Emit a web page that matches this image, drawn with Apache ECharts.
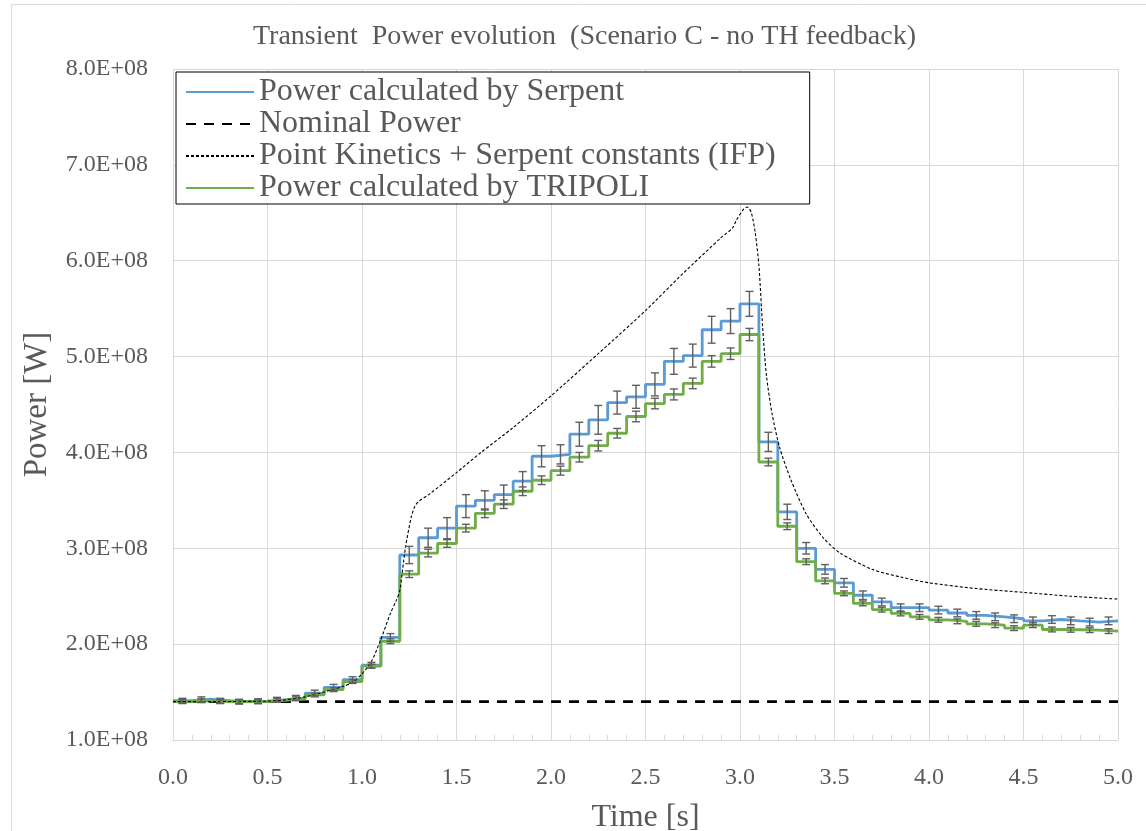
<!DOCTYPE html>
<html>
<head>
<meta charset="utf-8">
<title>Transient Power evolution</title>
<script src="https://cdn.jsdelivr.net/npm/echarts@6/dist/echarts.min.js"></script>
<style>
  html, body { margin: 0; padding: 0; background: #ffffff; }
  #chart { width: 1146px; height: 831px; }
</style>
</head>
<body>
<div id="chart"></div>
<script>
// Power values are given in units of 1e8 W
const UNIT = 1e8;

// Start time of each 0.1 s tally bin [s]
const binStart = [
  0.0, 0.1, 0.2, 0.3, 0.4, 0.5, 0.6, 0.7, 0.8, 0.9,
  1.0, 1.1, 1.2, 1.3, 1.4, 1.5, 1.6, 1.7, 1.8, 1.9,
  2.0, 2.1, 2.2, 2.3, 2.4, 2.5, 2.6, 2.7, 2.8, 2.9,
  3.0, 3.1, 3.2, 3.3, 3.4, 3.5, 3.6, 3.7, 3.8, 3.9,
  4.0, 4.1, 4.2, 4.3, 4.4, 4.5, 4.6, 4.7, 4.8, 4.9
];
const endTime = 5.0;
const binWidth = 0.1;

// Serpent: bin power and 1-sigma uncertainty
const serpentPower = [
  1.41, 1.425, 1.41, 1.40, 1.405, 1.42, 1.44, 1.49, 1.55, 1.63,
  1.78, 2.07, 2.93, 3.11, 3.21, 3.44, 3.50, 3.56, 3.70, 3.96,
  3.98, 4.19, 4.34, 4.52, 4.58, 4.71, 4.95, 5.01, 5.28, 5.37,
  5.55, 4.11, 3.38, 3.00, 2.78, 2.64, 2.51, 2.44, 2.38, 2.38,
  2.355, 2.325, 2.30, 2.285, 2.265, 2.243, 2.257, 2.243, 2.23, 2.243
];
const serpentError = [
  0.025, 0.025, 0.025, 0.025, 0.025, 0.025, 0.025, 0.03, 0.03, 0.03,
  0.03, 0.04, 0.09, 0.10, 0.11, 0.12, 0.10, 0.10, 0.10, 0.11,
  0.10, 0.125, 0.15, 0.12, 0.12, 0.12, 0.135, 0.12, 0.14, 0.13,
  0.13, 0.10, 0.08, 0.06, 0.05, 0.045, 0.045, 0.04, 0.04, 0.04,
  0.04, 0.04, 0.04, 0.04, 0.04, 0.04, 0.04, 0.04, 0.04, 0.04
];

// TRIPOLI: bin power and 1-sigma uncertainty
const tripoliPower = [
  1.40, 1.41, 1.40, 1.40, 1.40, 1.415, 1.43, 1.47, 1.525, 1.61,
  1.77, 2.03, 2.73, 2.95, 3.05, 3.21, 3.365, 3.46, 3.595, 3.71,
  3.81, 3.95, 4.07, 4.20, 4.375, 4.51, 4.605, 4.72, 4.95, 5.03,
  5.23, 3.90, 3.23, 2.86, 2.66, 2.53, 2.425, 2.36, 2.32, 2.285,
  2.254, 2.238, 2.212, 2.198, 2.167, 2.198, 2.153, 2.15, 2.146, 2.136
];
const tripoliError = [
  0.02, 0.02, 0.02, 0.02, 0.02, 0.02, 0.02, 0.02, 0.02, 0.02,
  0.02, 0.025, 0.035, 0.04, 0.04, 0.04, 0.045, 0.045, 0.045, 0.045,
  0.047, 0.05, 0.055, 0.05, 0.055, 0.055, 0.057, 0.055, 0.06, 0.06,
  0.064, 0.04, 0.035, 0.03, 0.03, 0.025, 0.025, 0.025, 0.025, 0.025,
  0.025, 0.025, 0.025, 0.025, 0.025, 0.025, 0.025, 0.025, 0.025, 0.025
];

// Point kinetics solution with Serpent kinetic constants (IFP)
const pkTime = [
  0.0, 0.5, 0.6, 0.7, 0.8, 0.9, 0.95, 1.0, 1.05, 1.1,
  1.15, 1.18, 1.2, 1.23, 1.26, 1.28, 1.3, 1.36, 1.5, 1.63,
  1.8, 2.0, 2.25, 2.5, 2.7, 2.9, 2.96, 2.98, 3.02, 3.04,
  3.06, 3.08, 3.1, 3.12, 3.14, 3.17, 3.21, 3.27, 3.35, 3.44,
  3.53, 3.7, 3.85, 4.0, 4.25, 4.5, 4.75, 5.0
];
const pkPower = [
  1.40, 1.405, 1.42, 1.45, 1.50, 1.56, 1.60, 1.69, 1.82, 2.05,
  2.32, 2.45, 2.56, 3.01, 3.32, 3.44, 3.49, 3.57, 3.79, 4.00,
  4.26, 4.59, 5.03, 5.48, 5.87, 6.24, 6.34, 6.42, 6.54, 6.56,
  6.50, 6.30, 5.95, 5.30, 4.80, 4.40, 4.05, 3.71, 3.36, 3.11,
  2.95, 2.78, 2.70, 2.64, 2.58, 2.54, 2.50, 2.47
];

// Nominal reactor power
const nominalPower = 1.40;

// Axis ticks
const yTicks = [1, 2, 3, 4, 5, 6, 7, 8];
const xTicks = [0.0, 0.5, 1.0, 1.5, 2.0, 2.5, 3.0, 3.5, 4.0, 4.5, 5.0];

const seriesNames = [
  'Power calculated by Serpent',
  'Nominal Power',
  'Point Kinetics + Serpent constants (IFP)',
  'Power calculated by TRIPOLI'
];

const FONT = '"Liberation Serif", "Times New Roman", serif';
const TEXT_COLOR = '#595959';
const GRID_COLOR = '#d9d9d9';

// Histogram-style steps: each bin value holds until the next bin edge
function stepData(values) {
  const pts = binStart.map((t, i) => [t, values[i] * UNIT]);
  pts.push([endTime, values[values.length - 1] * UNIT]);
  return pts;
}

function errorData(values, errors) {
  return binStart.map((t, i) => [t + binWidth / 2, values[i] * UNIT, errors[i] * UNIT]);
}

function renderErrorBar(params, api) {
  const x = api.value(0);
  const y = api.value(1);
  const e = api.value(2);
  const hi = api.coord([x, y + e]);
  const lo = api.coord([x, y - e]);
  const cap = 4;
  const style = { stroke: '#5f5f5f', lineWidth: 1.4 };
  return {
    type: 'group',
    children: [
      { type: 'line', shape: { x1: hi[0], y1: hi[1], x2: lo[0], y2: lo[1] }, style },
      { type: 'line', shape: { x1: hi[0] - cap, y1: hi[1], x2: hi[0] + cap, y2: hi[1] }, style },
      { type: 'line', shape: { x1: lo[0] - cap, y1: lo[1], x2: lo[0] + cap, y2: lo[1] }, style }
    ]
  };
}

const chart = echarts.init(document.getElementById('chart'), null, { renderer: 'canvas' });

const option = {
  backgroundColor: '#ffffff',
  animation: false,
  textStyle: { fontFamily: FONT },
  graphic: [
    {
      type: 'rect',
      shape: { x: 11.5, y: 4.5, width: 1150, height: 840 },
      style: { fill: null, stroke: GRID_COLOR, lineWidth: 1 },
      silent: true,
      z: -10
    },
    {
      type: 'text',
      left: 253,
      top: 23,
      style: {
        text: 'Transient  Power evolution  (Scenario C - no TH feedback)',
        font: '28px ' + FONT,
        fill: TEXT_COLOR
      }
    }
  ],
  grid: {
    left: 173,
    right: 28,
    top: 69,
    bottom: 91,
    containLabel: false,
    outerBoundsMode: 'none'
  },
  legend: {
    orient: 'vertical',
    left: 176,
    top: 72,
    width: 700,
    backgroundColor: '#ffffff',
    borderColor: '#000000',
    borderWidth: 1,
    borderRadius: 0,
    padding: [4, 34, 0, 9],
    itemWidth: 68,
    itemHeight: 14,
    itemGap: 0,
    itemStyle: { opacity: 0 },
    textStyle: {
      fontFamily: FONT,
      fontSize: 32,
      lineHeight: 31.5,
      color: TEXT_COLOR
    },
    data: seriesNames.map(n => ({ name: n })),
    z: 20
  },
  xAxis: {
    type: 'value',
    min: 0,
    max: 5,
    interval: 0.5,
    name: 'Time [s]',
    nameLocation: 'middle',
    nameGap: 62,
    nameTextStyle: { fontFamily: FONT, fontSize: 32, color: TEXT_COLOR },
    axisLine: { show: true, lineStyle: { color: GRID_COLOR, width: 1 } },
    axisTick: { show: true, inside: true, length: 5, lineStyle: { color: GRID_COLOR } },
    minorTick: { show: true, splitNumber: 5, length: 5, lineStyle: { color: GRID_COLOR } },
    axisLabel: {
      fontFamily: FONT,
      fontSize: 24,
      color: TEXT_COLOR,
      margin: 26,
      formatter: v => xTicks.includes(Math.round(v * 10) / 10) ? v.toFixed(1) : ''
    },
    splitLine: { show: true, lineStyle: { color: GRID_COLOR, width: 1 } }
  },
  yAxis: {
    type: 'value',
    min: yTicks[0] * UNIT,
    max: yTicks[yTicks.length - 1] * UNIT,
    interval: UNIT,
    name: 'Power [W]',
    nameLocation: 'middle',
    nameRotate: 90,
    nameGap: 119,
    nameTextStyle: { fontFamily: FONT, fontSize: 33, color: TEXT_COLOR },
    axisLine: { show: true, lineStyle: { color: GRID_COLOR, width: 1 } },
    axisTick: { show: false },
    axisLabel: {
      fontFamily: FONT,
      fontSize: 24,
      color: TEXT_COLOR,
      margin: 25,
      formatter: v => (v / UNIT).toFixed(1) + 'E+08'
    },
    splitLine: { show: true, lineStyle: { color: GRID_COLOR, width: 1 } }
  },
  series: [
    {
      name: seriesNames[0],
      type: 'line',
      step: 'end',
      data: stepData(serpentPower),
      symbol: 'none',
      lineStyle: { color: '#5b9bd5', width: 2.8 },
      itemStyle: { color: '#5b9bd5' },
      z: 3
    },
    {
      name: seriesNames[1],
      type: 'line',
      data: [[0, nominalPower * UNIT], [endTime, nominalPower * UNIT]],
      symbol: 'none',
      lineStyle: { color: '#000000', width: 2.6, type: [10, 8] },
      itemStyle: { color: '#000000' },
      z: 2
    },
    {
      name: seriesNames[2],
      type: 'line',
      data: pkTime.map((t, i) => [t, pkPower[i] * UNIT]),
      symbol: 'none',
      smooth: 0.25,
      lineStyle: { color: '#000000', width: 1.1, type: [3, 2] },
      itemStyle: { color: '#000000' },
      z: 5
    },
    {
      name: seriesNames[3],
      type: 'line',
      step: 'end',
      data: stepData(tripoliPower),
      symbol: 'none',
      lineStyle: { color: '#70ad47', width: 2.8 },
      itemStyle: { color: '#70ad47' },
      z: 4
    },
    {
      name: 'Serpent uncertainty',
      type: 'custom',
      renderItem: renderErrorBar,
      data: errorData(serpentPower, serpentError),
      encode: { x: 0, y: 1 },
      silent: true,
      z: 6
    },
    {
      name: 'TRIPOLI uncertainty',
      type: 'custom',
      renderItem: renderErrorBar,
      data: errorData(tripoliPower, tripoliError),
      encode: { x: 0, y: 1 },
      silent: true,
      z: 6
    }
  ]
};

chart.setOption(option);
</script>
</body>
</html>
